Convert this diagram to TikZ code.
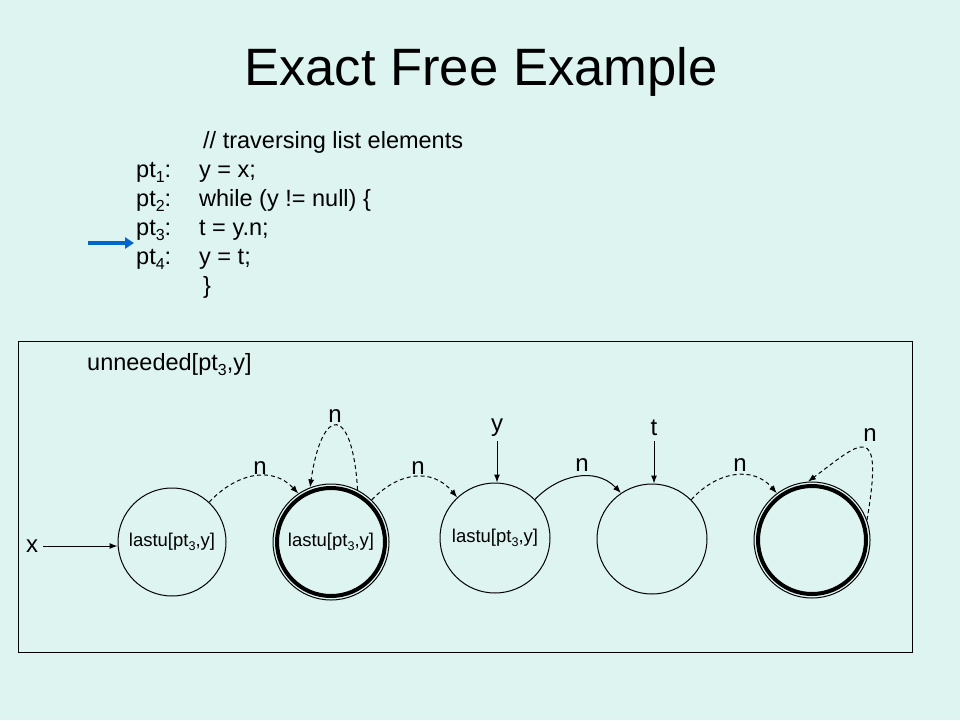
\documentclass[tikz,border=0pt]{standalone}
\usepackage{fontspec}
\setmainfont{Liberation Sans}
\usetikzlibrary{arrows.meta}
\definecolor{bg}{RGB}{221,244,241}
\definecolor{ptrblue}{RGB}{0,102,204}
\newcommand\lsub[1]{\raisebox{-0.22em}{\scalebox{0.68}{#1}}}
\newcommand\fs[1]{\fontsize{#1}{#1}\selectfont}
\begin{document}
\begin{tikzpicture}[x=1pt,y=-1pt,
  txt/.style={inner sep=0pt, anchor=base west, font=\fs{23.5}},
  state/.style={circle, draw, line width=1pt, inner sep=0pt, font=\fs{18.5}},
  ptr/.style={line width=1pt, -{Latex[length=8pt,width=6pt]}},
  npath/.style={ptr, dash pattern=on 4pt off 3pt},
  lbl/.style={inner sep=2pt, font=\fs{24}},
  thickring/.style={line width=4pt}]
\fill[bg] (0,0) rectangle (960,720);
\useasboundingbox (0,0) rectangle (960,720);

% title
\node[inner sep=0pt, anchor=base, font=\fs{52.6}] (title) at (481,85) {Exact Free Example};

% code
\node[txt] (cmt) at (203,148) {// traversing list elements};
\node[txt] (p1) at (136,177) {pt\lsub{1}:};
\node[txt] (l1) at (199,177) {y = x;};
\node[txt] (p2) at (136,206) {pt\lsub{2}:};
\node[txt] (l2) at (199,206) {while (y != null) \{};
\node[txt] (p3) at (136,235) {pt\lsub{3}:};
\node[txt] (l3) at (199,235) {t = y.n;};
\node[txt] (p4) at (136,264) {pt\lsub{4}:};
\node[txt] (l4) at (199,264) {y = t;};
\node[txt] (l5) at (203,293) {\}};

% current point arrow
\coordinate (ba1) at (88,243);
\coordinate (ba2) at (134,243);
\draw[ptrblue, line width=3.5pt, -{Triangle[length=9pt,width=11pt]}] (ba1) -- (ba2);

% frame
\draw[line width=1pt] (18.5,341) rectangle (912.5,652.5);
\node[txt] (un) at (87,370) {unneeded[pt\lsub{3},y]};

% states
\node[state, minimum size=108pt] (c1) at (172,542) {lastu[pt\lsub{3},y]};
\node[state, minimum size=116pt] (c2) at (331,542) {lastu[pt\lsub{3},y]};
\draw[thickring] (c2.center) circle (54);
\node[state, minimum size=110pt] (c3) at (495,538) {lastu[pt\lsub{3},y]};
\node[state, minimum size=110pt] (c4) at (652,539) {};
\node[state, minimum size=116pt] (c5) at (812,540) {};
\draw[thickring] (c5.center) circle (54);

% pointer labels
\node[lbl] (xl) at (32,546) {x};
\node[lbl] (yl) at (497,428) {y};
\node[lbl] (tl) at (654,428) {t};
\draw[ptr, shorten <=3pt] (xl.east) -- (c1.west |- xl.east);
\draw[ptr, shorten <=2pt] (yl.south) -- (yl.south |- c3.north);
\draw[ptr, shorten <=3pt] (tl.south) -- (tl.south |- c4.north);

% n edges
\draw[npath] (c1.47) .. controls +(27,-29) and +(-26,-28) .. (c2.124.5);
\draw[npath] (c2.63) .. controls +(-5,-85) and +(12,-83) .. (c2.111);
\draw[npath] (c2.46) .. controls +(27,-28) and +(-25,-30) .. (c3.133);
\draw[ptr] (c3.44) .. controls +(23,-24) and +(-26,-27) .. (c4.124);
\draw[npath] (c4.45) .. controls +(25,-28) and +(-24,-28) .. (c5.127);
\draw[npath] (c5.20) .. controls +(18,-105) and +(50,-37) .. (c5.94);

\node[lbl] (n1) at (260,468) {n};
\node[lbl] (n2) at (335,416) {n};
\node[lbl] (n3) at (418,468) {n};
\node[lbl] (n4) at (582,465) {n};
\node[lbl] (n5) at (740,465) {n};
\node[lbl] (n6) at (870,435) {n};
\end{tikzpicture}
\end{document}
